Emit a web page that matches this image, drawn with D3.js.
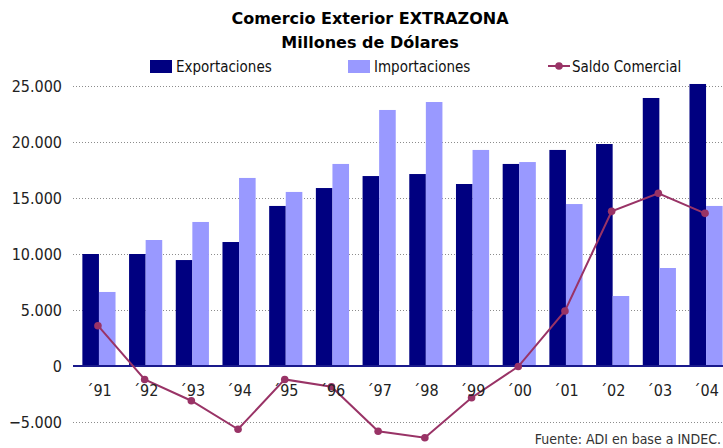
<!DOCTYPE html>
<html>
<head>
<meta charset="utf-8">
<script src="https://cdn.jsdelivr.net/npm/d3@7"></script>
<style>
  body { margin: 0; background: #fff; }
  svg { display: block; }
</style>
</head>
<body>
<svg id="chart" width="723" height="448"></svg>
<script>
// data (millions of USD)
const years = ["´91", "´92", "´93", "´94", "´95", "´96", "´97", "´98", "´99", "´00", "´01", "´02", "´03", "´04"];
const exportaciones = [10000, 10000, 9460, 11070, 14290, 15890, 16960, 17140, 16250, 18040, 19290, 19820, 23930, 25180];
const importaciones = [6610, 11250, 12860, 16790, 15540, 18040, 22860, 23570, 19290, 18210, 14460, 6250, 8750, 14290];
const saldo = [3600, -1200, -3100, -5650, -1200, -1850, -5830, -6400, -2830, -50, 4910, 13810, 15420, 13630];
const yTicks = [-5000, 0, 5000, 10000, 15000, 20000, 25000];

const COLORS = { exp: "#000080", imp: "#9999FF", saldo: "#993366" };
const FONT = "'DejaVu Sans Condensed', 'DejaVu Sans', sans-serif";

const svg = d3.select("#chart");

const x = d3.scaleBand()
    .domain(years)
    .range([75.6, 729.4])
    .paddingInner(0.29)
    .paddingOuter(0.145);

const xSub = d3.scaleBand()
    .domain(["exp", "imp"])
    .range([0, x.bandwidth()]);

const y = d3.scaleLinear()
    .domain([-5000, 25000])
    .range([422, 86]);

const fmt = d3.formatLocale({ decimal: ",", thousands: ".", grouping: [3], currency: ["", ""] }).format(",");

// gridlines
svg.append("g")
    .selectAll("line")
    .data(yTicks.filter(d => d !== 0))
    .join("line")
    .attr("x1", 73)
    .attr("x2", 723)
    .attr("y1", d => y(d) + 0.5)
    .attr("y2", d => y(d) + 0.5)
    .attr("stroke", "#8c8c8c")
    .attr("stroke-width", 1)
    .attr("stroke-dasharray", "1,2");

// y tick labels
svg.append("g")
    .selectAll("text")
    .data(yTicks)
    .join("text")
    .attr("x", 62)
    .attr("y", d => y(d) + 6)
    .attr("text-anchor", "end")
    .style("font-family", FONT)
    .style("font-size", "16px")
    .style("fill", "#222")
    .text(d => fmt(d));

// bars
const groups = svg.append("g")
    .selectAll("g")
    .data(years.map((yr, i) => ({ yr, exp: exportaciones[i], imp: importaciones[i] })))
    .join("g")
    .attr("transform", d => `translate(${x(d.yr)},0)`);

groups.selectAll("rect")
    .data(d => ["exp", "imp"].map(k => ({ key: k, value: d[k] })))
    .join("rect")
    .attr("x", d => xSub(d.key))
    .attr("width", xSub.bandwidth())
    .attr("y", d => y(d.value))
    .attr("height", d => y(0) - y(d.value))
    .attr("fill", d => COLORS[d.key]);

// zero line
svg.append("line")
    .attr("x1", 73)
    .attr("x2", 723)
    .attr("y1", y(0))
    .attr("y2", y(0))
    .attr("stroke", "#1a1a8c")
    .attr("stroke-width", 2);

// saldo line
const line = d3.line()
    .x((d, i) => x(years[i]) + x.bandwidth() / 2 - 1)
    .y(d => y(d));

svg.append("path")
    .datum(saldo)
    .attr("d", line)
    .attr("fill", "none")
    .attr("stroke", COLORS.saldo)
    .attr("stroke-width", 2);

svg.append("g")
    .selectAll("circle")
    .data(saldo)
    .join("circle")
    .attr("cx", (d, i) => x(years[i]) + x.bandwidth() / 2 - 1)
    .attr("cy", d => y(d))
    .attr("r", 3.8)
    .attr("fill", COLORS.saldo);

// x labels
svg.append("g")
    .selectAll("text")
    .data(years)
    .join("text")
    .attr("x", d => x(d) + x.bandwidth() / 2)
    .attr("y", 396)
    .attr("text-anchor", "middle")
    .style("font-family", FONT)
    .style("font-size", "16px")
    .style("fill", "#222")
    .text(d => d);

// title
const titleLines = ["Comercio Exterior EXTRAZONA", "Millones de Dólares"];
svg.append("g")
    .selectAll("text")
    .data(titleLines)
    .join("text")
    .attr("x", 370)
    .attr("y", (d, i) => 24 + i * 24)
    .attr("text-anchor", "middle")
    .style("font-family", "'DejaVu Sans', sans-serif")
    .style("font-weight", "bold")
    .style("font-size", "16px")
    .style("fill", "#000")
    .text(d => d);

// legend
const legend = svg.append("g");
const legendItems = [
    { label: "Exportaciones", key: "exp", x: 150 },
    { label: "Importaciones", key: "imp", x: 348 },
    { label: "Saldo Comercial", key: "saldo", x: 548 }
];

legendItems.forEach(item => {
    if (item.key === "saldo") {
        legend.append("line")
            .attr("x1", item.x).attr("x2", item.x + 22)
            .attr("y1", 66).attr("y2", 66)
            .attr("stroke", COLORS.saldo)
            .attr("stroke-width", 2);
        legend.append("circle")
            .attr("cx", item.x + 11).attr("cy", 66)
            .attr("r", 3.8)
            .attr("fill", COLORS.saldo);
    } else {
        legend.append("rect")
            .attr("x", item.x).attr("y", 60)
            .attr("width", 22).attr("height", 13)
            .attr("fill", COLORS[item.key]);
    }
    legend.append("text")
        .attr("x", item.x + (item.key === "saldo" ? 24 : 26))
        .attr("y", 72)
        .style("font-family", FONT)
        .style("font-size", "15px")
        .style("fill", "#111")
        .text(item.label);
});

// source
svg.append("text")
    .attr("x", 721)
    .attr("y", 444)
    .attr("text-anchor", "end")
    .style("font-family", FONT)
    .style("font-size", "14px")
    .style("fill", "#333")
    .text("Fuente: ADI en base a INDEC.");
</script>
</body>
</html>
